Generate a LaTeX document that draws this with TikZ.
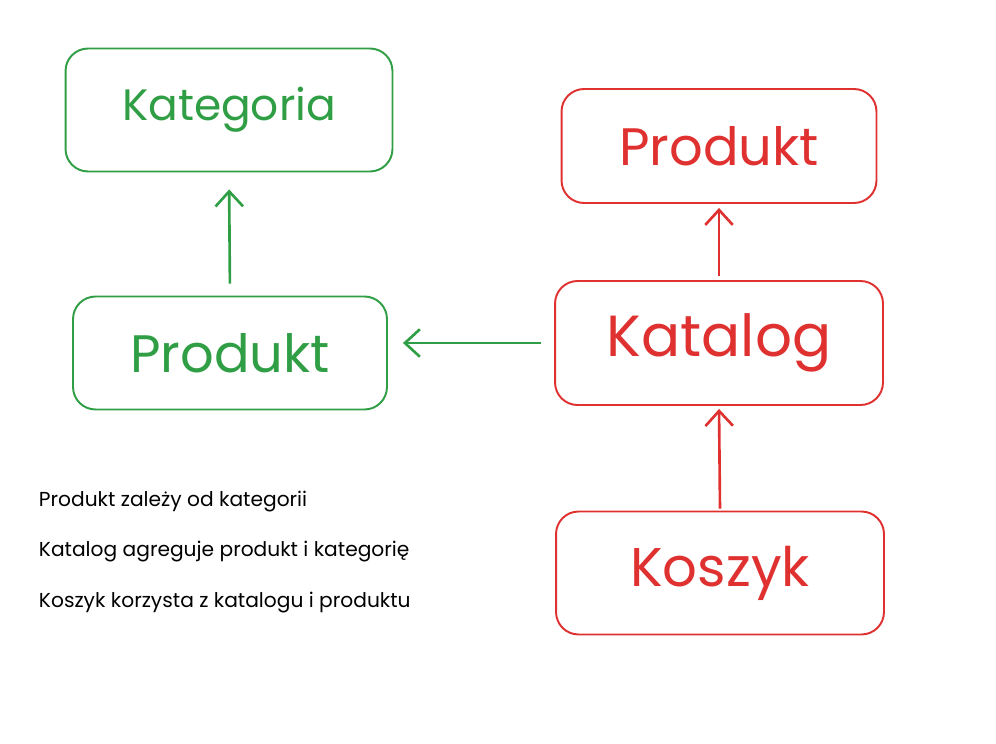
\documentclass[tikz,border=0pt]{standalone}
\usepackage{fontspec}
\setmainfont{Poppins}
\usepackage{tikz}
\usetikzlibrary{arrows.meta}
\definecolor{catgreen}{HTML}{2F9E44}
\definecolor{catred}{HTML}{E03131}

\begin{document}
\begin{tikzpicture}[x=0.02cm,y=-0.02cm,->,>={Straight Barb[length=3mm,width=5.5mm]},
  line width=1.1pt,
  box/.style={draw,rounded corners=0.45cm,inner sep=0pt,font=\fontsize{30}{34}\selectfont},
  green box/.style={box,catgreen,text=catgreen},
  red box/.style={box,catred,text=catred},
  link/.style={line width=1.5pt},
  note/.style={anchor=west,inner sep=0pt,font=\fontsize{11.5}{14}\selectfont,text=black}]

  \useasboundingbox (0,0) rectangle (996,743);

  \node[green box,minimum width=6.54cm,minimum height=2.46cm,
        font=\fontsize{25}{29}\selectfont] (kategoria) at (229,110) {Kategoria};
  \node[green box,minimum width=6.28cm,minimum height=2.26cm] (gprodukt) at (230,353) {Produkt};
  \node[red box,minimum width=6.30cm,minimum height=2.28cm] (rprodukt) at (719,146) {Produkt};
  \node[red box,minimum width=6.56cm,minimum height=2.48cm,
        font=\fontsize{33}{37}\selectfont] (katalog) at (719,343) {Katalog};
  \node[red box,minimum width=6.56cm,minimum height=2.46cm,
        font=\fontsize{31}{35}\selectfont] (koszyk) at (720,573) {Koszyk};

  \draw[link,catgreen,shorten <=0.24cm,shorten >=0.34cm] (gprodukt.north) -- (kategoria.south);
  \draw[link,catgreen,shorten <=0.26cm,shorten >=0.3cm] (katalog.west) -- (gprodukt.east |- katalog.west);
  \draw[link,catred,shorten <=0.08cm,shorten >=0.08cm] (katalog.north) -- (rprodukt.south);
  \draw[link,catred,shorten <=0.04cm,shorten >=0.06cm] (koszyk.north) -- (katalog.south);

  \node[note] (n1) at (38,502) {Produkt zależy od kategorii};
  \node[note] (n2) at (38,552) {Katalog agreguje produkt i kategorię};
  \node[note] (n3) at (38,603) {Koszyk korzysta z katalogu i produktu};

\end{tikzpicture}
\end{document}
